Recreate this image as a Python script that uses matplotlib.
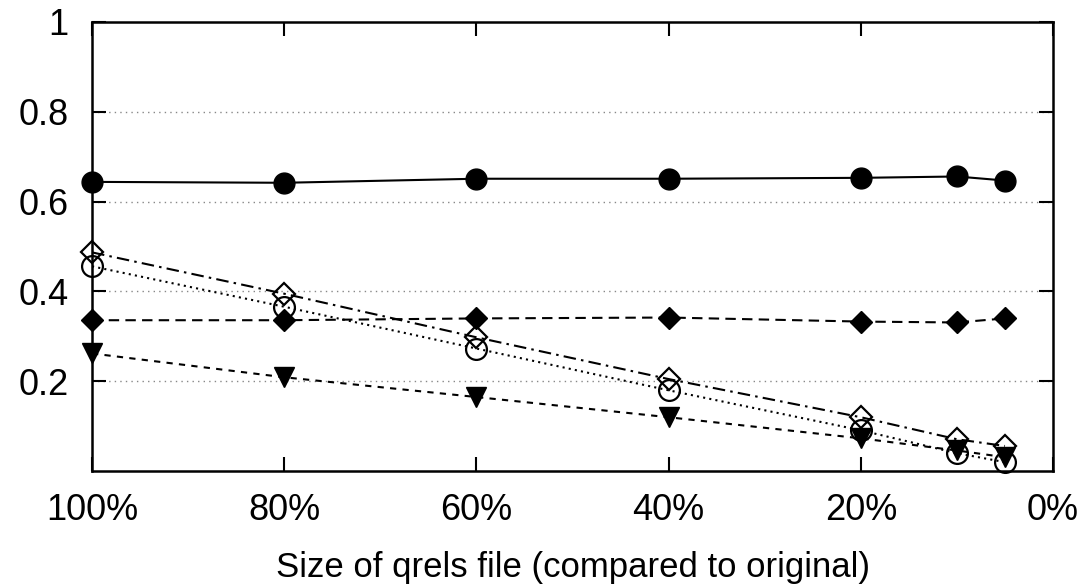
import matplotlib.pyplot as plt

# qrels size (% of original)
sizes = [100, 80, 60, 40, 20, 10, 5]

# series values
filled_circle = [0.644, 0.642, 0.651, 0.651, 0.653, 0.656, 0.647]
filled_diamond = [0.336, 0.336, 0.340, 0.342, 0.333, 0.331, 0.340]
open_diamond = [0.487, 0.395, 0.298, 0.205, 0.120, 0.071, 0.056]
open_circle = [0.456, 0.366, 0.273, 0.180, 0.091, 0.040, 0.020]
filled_triangle = [0.262, 0.209, 0.165, 0.120, 0.073, 0.046, 0.031]

xticks = [100, 80, 60, 40, 20, 0]
xtick_labels = ["100%", "80%", "60%", "40%", "20%", "0%"]
yticks = [0.2, 0.4, 0.6, 0.8, 1.0]
ytick_labels = ["0.2", "0.4", "0.6", "0.8", "1"]

plt.rcParams["font.family"] = ["Liberation Sans", "DejaVu Sans"]

fig = plt.figure(figsize=(10.83, 5.86), dpi=100)
ax = fig.add_axes([0.085, 0.196, 0.8873, 0.7665])

# grid (dotted, grey) at the inner y ticks
for y in [0.2, 0.4, 0.6, 0.8]:
    ax.axhline(y, color="#888888", linestyle=(0, (1, 3)), linewidth=1.0, zorder=0)

lw = 1.5
ms = 15
common = dict(color="black", linewidth=lw, clip_on=False)
ax.plot(sizes, filled_circle, linestyle="-", marker="o", markersize=ms,
        markerfacecolor="black", **common)
ax.plot(sizes, filled_diamond, linestyle=(0, (5, 3)), marker="D", markersize=ms * 0.78,
        markerfacecolor="black", **common)
ax.plot(sizes, open_diamond, linestyle=(0, (6, 2.5, 1.2, 2.5)), marker="D",
        markersize=ms * 0.78, markerfacecolor="none", markeredgewidth=1.6, **common)
ax.plot(sizes, open_circle, linestyle=(0, (1, 2)), marker="o", markersize=ms,
        markerfacecolor="none", markeredgewidth=1.6, **common)
ax.plot(sizes, filled_triangle, linestyle=(0, (3, 3)), marker="v", markersize=ms,
        markerfacecolor="black", **common)

ax.set_xlim(100, 0)
ax.set_ylim(0, 1)
ax.set_xticks(xticks)
ax.set_xticklabels(xtick_labels)
ax.set_yticks(yticks)
ax.set_yticklabels(ytick_labels)

ax.tick_params(axis="both", direction="in", length=10, width=1.5, labelsize=26,
               top=True, right=True)
ax.tick_params(axis="x", pad=16)
ax.tick_params(axis="y", pad=17)
for s in ax.spines.values():
    s.set_linewidth(1.8)

ax.set_xlabel("Size of qrels file (compared to original)", fontsize=25, labelpad=16)

fig.savefig("out.png", dpi=100)
